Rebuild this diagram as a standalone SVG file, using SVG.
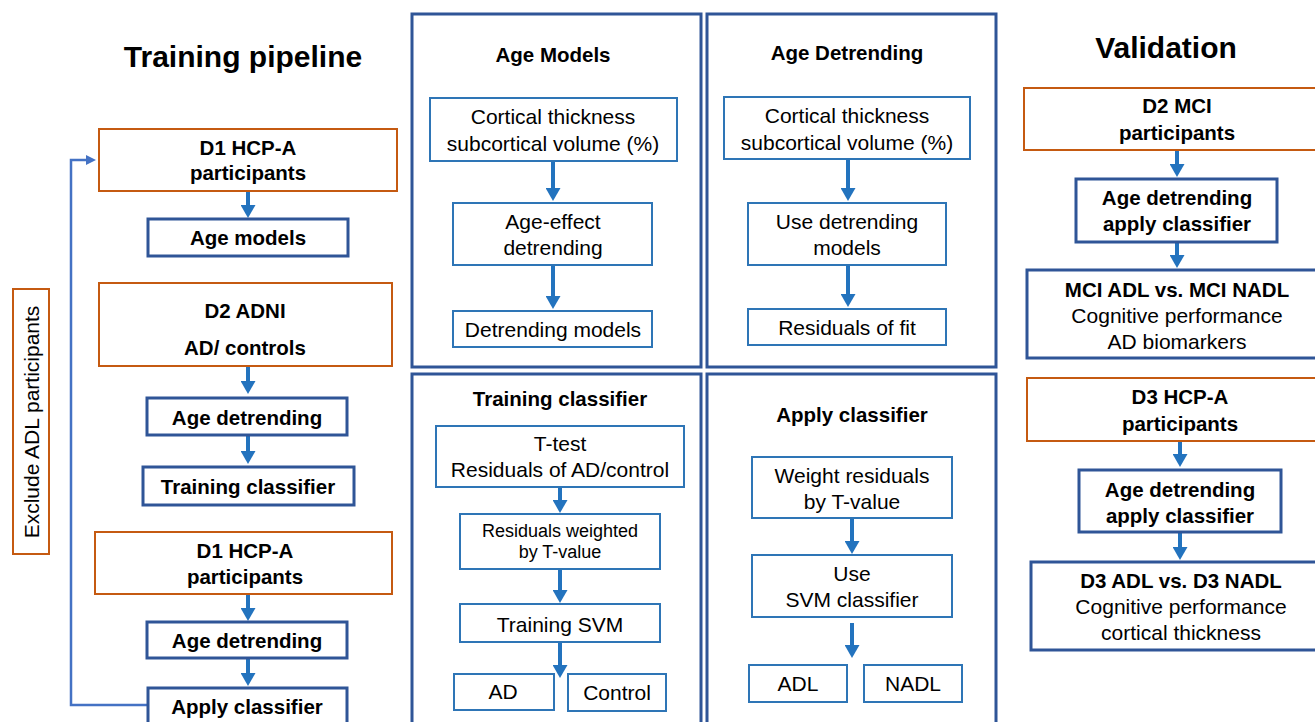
<svg xmlns="http://www.w3.org/2000/svg" width="1315" height="722" viewBox="0 0 1315 722">
<style>
text{font-family:"Liberation Sans",Arial,sans-serif;fill:#000;text-anchor:middle}
.b{font-weight:bold;font-size:20.5px}
.n{font-size:21px}
.s{font-size:18px}
.t{font-weight:bold;font-size:30px}
.or{fill:#fff;stroke:#C55A11;stroke-width:2}
.db{fill:#fff;stroke:#2F5597;stroke-width:3}
.lb{fill:#fff;stroke:#2E75B6;stroke-width:2}
.pn{fill:none;stroke:#2F5597;stroke-width:3}
.ar{stroke:#2373BE;stroke-width:4;fill:none}
.fb{stroke:#4472C4;stroke-width:2.5;fill:none}
</style>
<defs>
<marker id="ah" markerUnits="userSpaceOnUse" markerWidth="13" markerHeight="15" refX="1" refY="7.5" orient="auto"><path d="M0,0 L13,7.5 L0,15 z" fill="#2373BE"/></marker>
<marker id="ah2" markerUnits="userSpaceOnUse" markerWidth="10" markerHeight="10" refX="1" refY="5" orient="auto"><path d="M0,0 L10,5 L0,10 z" fill="#4472C4"/></marker>
</defs>

<text class="t" x="243" y="67">Training pipeline</text>
<text class="t" x="1166" y="58">Validation</text>

<g id="panels">
<rect class="pn" x="412" y="14" width="289" height="353"/>
<rect class="pn" x="707" y="14" width="289" height="353"/>
<rect class="pn" x="412" y="374" width="289" height="360"/>
<rect class="pn" x="707" y="374" width="289" height="360"/>
<text class="b" x="553" y="62">Age Models</text>
<text class="b" x="847" y="60">Age Detrending</text>
<text class="b" x="560" y="406">Training classifier</text>
<text class="b" x="852" y="422">Apply classifier</text>
</g>

<g id="connectors">
<line class="ar" x1="248" y1="192" x2="248" y2="206" marker-end="url(#ah)"/>
<line class="ar" x1="248" y1="367" x2="248" y2="382" marker-end="url(#ah)"/>
<line class="ar" x1="248" y1="436" x2="248" y2="452" marker-end="url(#ah)"/>
<line class="ar" x1="248" y1="595" x2="248" y2="609" marker-end="url(#ah)"/>
<line class="ar" x1="248" y1="659" x2="248" y2="674" marker-end="url(#ah)"/>
<path class="fb" d="M148,705 H71 V160 H87" marker-end="url(#ah2)"/>

<line class="ar" x1="553" y1="162" x2="553" y2="189" marker-end="url(#ah)"/>
<line class="ar" x1="553" y1="266" x2="553" y2="297" marker-end="url(#ah)"/>
<line class="ar" x1="848" y1="160" x2="848" y2="189" marker-end="url(#ah)"/>
<line class="ar" x1="848" y1="266" x2="848" y2="295" marker-end="url(#ah)"/>

<line class="ar" x1="560" y1="488" x2="560" y2="501" marker-end="url(#ah)"/>
<line class="ar" x1="560" y1="570" x2="560" y2="591" marker-end="url(#ah)"/>
<line class="ar" x1="560" y1="643" x2="560" y2="666" marker-end="url(#ah)"/>
<line class="ar" x1="852" y1="519" x2="852" y2="542" marker-end="url(#ah)"/>
<line class="ar" x1="852" y1="623" x2="852" y2="646" marker-end="url(#ah)"/>

<line class="ar" x1="1177" y1="151" x2="1177" y2="165" marker-end="url(#ah)"/>
<line class="ar" x1="1177" y1="243" x2="1177" y2="256" marker-end="url(#ah)"/>
<line class="ar" x1="1180" y1="442" x2="1180" y2="455" marker-end="url(#ah)"/>
<line class="ar" x1="1180" y1="533" x2="1180" y2="548" marker-end="url(#ah)"/>
</g>

<g id="d1-hcpa">
<rect class="or" x="99" y="129" width="298" height="62"/>
<text class="b" x="248" y="155">D1 HCP-A</text>
<text class="b" x="248" y="180">participants</text>
</g>
<g id="age-models-step">
<rect class="db" x="148" y="219" width="200" height="37"/>
<text class="b" x="248" y="245">Age models</text>
</g>
<g id="d2-adni">
<rect class="or" x="99" y="283" width="293" height="83"/>
<text class="b" x="245" y="318">D2 ADNI</text>
<text class="b" x="245" y="355">AD/ controls</text>
</g>
<g id="age-detrending-1">
<rect class="db" x="147" y="398" width="200" height="37"/>
<text class="b" x="247" y="425">Age  detrending</text>
</g>
<g id="training-classifier-step">
<rect class="db" x="143" y="467" width="211" height="38"/>
<text class="b" x="248" y="494">Training classifier</text>
</g>
<g id="d1-hcpa-2">
<rect class="or" x="95" y="532" width="297" height="62"/>
<text class="b" x="245" y="558">D1 HCP-A</text>
<text class="b" x="245" y="584">participants</text>
</g>
<g id="age-detrending-2">
<rect class="db" x="147" y="622" width="200" height="36"/>
<text class="b" x="247" y="648">Age  detrending</text>
</g>
<g id="apply-classifier-step">
<rect class="db" x="148" y="688" width="199" height="40"/>
<text class="b" x="247" y="714">Apply  classifier</text>
</g>
<g id="exclude-adl">
<rect class="or" x="13" y="289" width="36" height="265"/>
<text class="n" transform="translate(39,422) rotate(-90)">Exclude ADL participants</text>
</g>

<g id="am-input">
<rect class="lb" x="430" y="98" width="247" height="63"/>
<text class="n" x="553" y="124">Cortical thickness</text>
<text class="n" x="553" y="151">subcortical volume (%)</text>
</g>
<g id="am-detrend">
<rect class="lb" x="453" y="203" width="199" height="62"/>
<text class="n" x="553" y="229">Age-effect</text>
<text class="n" x="553" y="255">detrending</text>
</g>
<g id="am-models">
<rect class="lb" x="453" y="311" width="199" height="36"/>
<text class="n" x="553" y="337">Detrending models</text>
</g>

<g id="ad-input">
<rect class="lb" x="724" y="97" width="246" height="62"/>
<text class="n" x="847" y="123">Cortical  thickness</text>
<text class="n" x="847" y="150">subcortical volume (%)</text>
</g>
<g id="ad-use">
<rect class="lb" x="748" y="203" width="198" height="62"/>
<text class="n" x="847" y="229">Use detrending</text>
<text class="n" x="847" y="255">models</text>
</g>
<g id="ad-residuals">
<rect class="lb" x="748" y="309" width="198" height="36"/>
<text class="n" x="847" y="335">Residuals of fit</text>
</g>

<g id="tc-ttest">
<rect class="lb" x="436" y="426" width="248" height="61"/>
<text class="n" x="560" y="451">T-test</text>
<text class="n" x="560" y="477">Residuals of AD/control</text>
</g>
<g id="tc-weighted">
<rect class="lb" x="460" y="514" width="200" height="55"/>
<text class="s" x="560" y="537">Residuals weighted</text>
<text class="s" x="560" y="558">by T-value</text>
</g>
<g id="tc-svm">
<rect class="lb" x="460" y="604" width="200" height="38"/>
<text class="n" x="560" y="632">Training SVM</text>
</g>
<g id="tc-ad">
<rect class="lb" x="454" y="674" width="100" height="36"/>
<text class="n" x="503" y="699">AD</text>
</g>
<g id="tc-control">
<rect class="lb" x="568" y="674" width="98" height="37"/>
<text class="n" x="617" y="700">Control</text>
</g>

<g id="ac-weight">
<rect class="lb" x="752" y="457" width="200" height="61"/>
<text class="n" x="852" y="483">Weight residuals</text>
<text class="n" x="852" y="509">by T-value</text>
</g>
<g id="ac-use">
<rect class="lb" x="752" y="555" width="200" height="62"/>
<text class="n" x="852" y="581">Use</text>
<text class="n" x="852" y="607">SVM classifier</text>
</g>
<g id="ac-adl">
<rect class="lb" x="749" y="665" width="98" height="37"/>
<text class="n" x="798" y="691">ADL</text>
</g>
<g id="ac-nadl">
<rect class="lb" x="864" y="665" width="98" height="37"/>
<text class="n" x="913" y="691">NADL</text>
</g>

<g id="d2-mci">
<rect class="or" x="1024" y="88" width="300" height="62"/>
<text class="b" x="1177" y="113">D2 MCI</text>
<text class="b" x="1177" y="140">participants</text>
</g>
<g id="v-apply-1">
<rect class="db" x="1076" y="179" width="201" height="63"/>
<text class="b" x="1177" y="205">Age detrending</text>
<text class="b" x="1177" y="231">apply classifier</text>
</g>
<g id="mci-compare">
<rect class="db" x="1027" y="270" width="300" height="88"/>
<text class="b" x="1177" y="297">MCI ADL vs. MCI NADL</text>
<text class="n" x="1177" y="323">Cognitive performance</text>
<text class="n" x="1177" y="349">AD biomarkers</text>
</g>
<g id="d3-hcpa">
<rect class="or" x="1027" y="378" width="300" height="63"/>
<text class="b" x="1180" y="404">D3 HCP-A</text>
<text class="b" x="1180" y="431">participants</text>
</g>
<g id="v-apply-2">
<rect class="db" x="1079" y="470" width="202" height="62"/>
<text class="b" x="1180" y="497">Age detrending</text>
<text class="b" x="1180" y="523">apply classifier</text>
</g>
<g id="d3-compare">
<rect class="db" x="1031" y="562" width="300" height="88"/>
<text class="b" x="1181" y="588">D3 ADL vs. D3 NADL</text>
<text class="n" x="1181" y="614">Cognitive performance</text>
<text class="n" x="1181" y="640">cortical thickness</text>
</g>
</svg>
